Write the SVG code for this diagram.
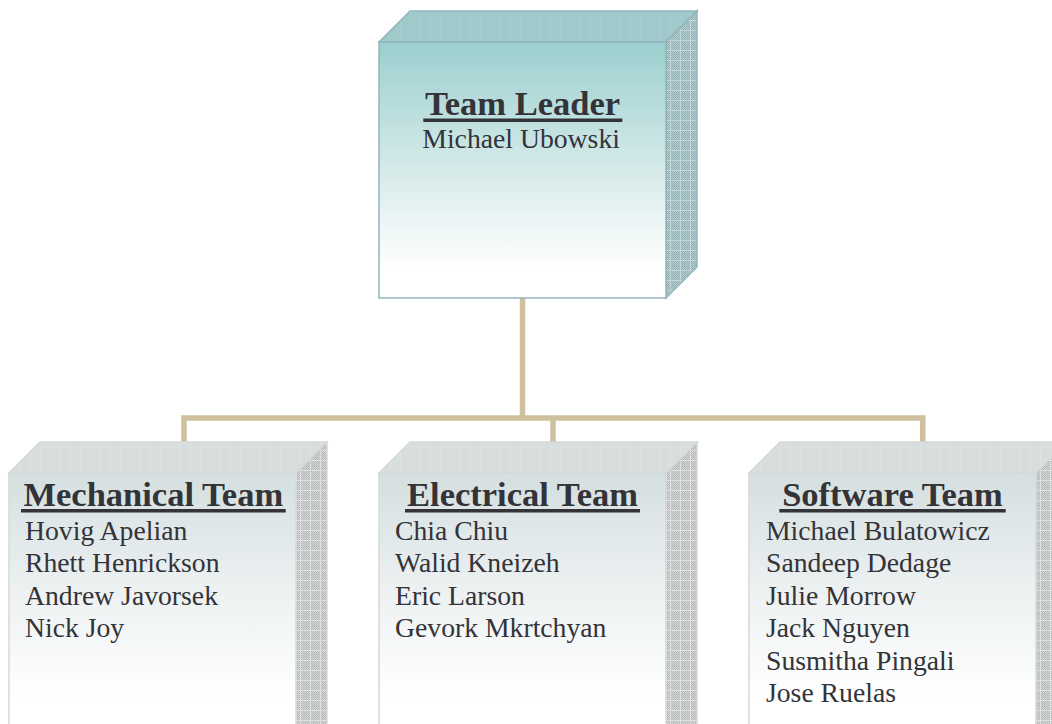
<svg xmlns="http://www.w3.org/2000/svg" width="1052" height="724" viewBox="0 0 1052 724">
  <defs>
    <style>
      .head { font-family: "Liberation Serif", "Times New Roman", serif; font-weight: bold; font-size: 34.5px; fill: #333338; text-anchor: middle; }
      .name { font-family: "Liberation Serif", "Times New Roman", serif; font-size: 27.7px; fill: #333338; }
      .uline { fill: #333338; }
      .link { stroke: #cfc19e; stroke-width: 5.5; fill: none; stroke-linecap: butt; }
      .leadEdge { stroke: #93b5bc; stroke-width: 1.5; stroke-linejoin: miter; }
      .teamEdge { stroke: #d6d9d9; stroke-width: 1.5; stroke-linejoin: miter; }
    </style>
    <!-- face shading -->
    <linearGradient id="leadFront" x1="0" y1="0" x2="0" y2="1">
      <stop offset="0" stop-color="#9bcfcf"/>
      <stop offset="0.5" stop-color="#d6eaea"/>
      <stop offset="0.88" stop-color="#ffffff"/>
      <stop offset="1" stop-color="#ffffff"/>
    </linearGradient>
    <linearGradient id="teamFront" gradientUnits="userSpaceOnUse" x1="0" y1="473" x2="0" y2="724">
      <stop offset="0" stop-color="#d5dfe0"/>
      <stop offset="0.5" stop-color="#eef2f3"/>
      <stop offset="0.9" stop-color="#ffffff"/>
    </linearGradient>
    <!-- fine dither for the side faces -->
    <pattern id="ditherTeal" width="2" height="2" patternUnits="userSpaceOnUse">
      <rect width="2" height="2" fill="#b2cbcd"/>
      <rect width="1" height="1" fill="#93b2b5"/>
      <rect x="1" y="1" width="1" height="1" fill="#93b2b5"/>
    </pattern>
    <pattern id="ditherGray" width="2" height="2" patternUnits="userSpaceOnUse">
      <rect width="2" height="2" fill="#d2d4d4"/>
      <rect width="1" height="1" fill="#b7baba"/>
      <rect x="1" y="1" width="1" height="1" fill="#b7baba"/>
    </pattern>
    <!-- mesh lines over the side faces -->
    <pattern id="meshTeal" width="10" height="10" patternUnits="userSpaceOnUse">
      <rect width="10" height="1" fill="#c3d7d8"/>
      <rect width="1" height="10" fill="#c3d7d8"/>
    </pattern>
    <pattern id="meshGray" width="10" height="10" patternUnits="userSpaceOnUse">
      <rect width="10" height="1" fill="#dfe1e1"/>
      <rect width="1" height="10" fill="#dfe1e1"/>
    </pattern>
    <!-- faint grid on the top faces -->
    <pattern id="roofTeal" width="10" height="10" patternUnits="userSpaceOnUse">
      <rect width="10" height="10" fill="#a0c9cb"/>
      <rect width="1" height="10" fill="#a8cdcf"/>
    </pattern>
    <pattern id="roofGray" width="10" height="10" patternUnits="userSpaceOnUse">
      <rect width="10" height="10" fill="#d8dede"/>
      <rect width="1" height="10" fill="#dde2e2"/>
    </pattern>
  </defs>

  <rect width="1052" height="724" fill="#ffffff"/>

  <!-- tree connectors -->
  <g id="connectors">
    <path class="link" d="M522.5 298 V418"/>
    <path class="link" d="M181.2 418 H925.5"/>
    <path class="link" d="M184 418 V444"/>
    <path class="link" d="M553 418 V444"/>
    <path class="link" d="M922.7 418 V444"/>
  </g>

  <!-- leader block -->
  <g id="team-leader">
    <polygon points="379,42 410,11 697,11 666,42" fill="url(#roofTeal)" class="leadEdge"/>
    <polygon points="666,42 697,11 697,267 666,298" fill="url(#ditherTeal)"/>
    <polygon points="666,42 697,11 697,267 666,298" fill="url(#meshTeal)" class="leadEdge"/>
    <rect x="379" y="42" width="287" height="256" fill="url(#leadFront)" class="leadEdge"/>
    <text class="head" x="522.5" y="115">Team Leader</text>
    <rect class="uline" x="423.3" y="118.5" width="199" height="3.5"/>
    <text class="name" x="422.3" y="148">Michael Ubowski</text>
  </g>

  <!-- mechanical block -->
  <g id="mechanical-team">
    <polygon points="9,473 40,442 327,442 296,473" fill="url(#roofGray)" class="teamEdge"/>
    <polygon points="296,473 327,442 327,740 296,740" fill="url(#ditherGray)"/>
    <polygon points="296,473 327,442 327,740 296,740" fill="url(#meshGray)" class="teamEdge"/>
    <rect x="9" y="473" width="287" height="267" fill="url(#teamFront)" class="teamEdge"/>
    <text class="head" x="153.3" y="506">Mechanical Team</text>
    <rect class="uline" x="21" y="509" width="264.7" height="3.5"/>
    <text class="name" x="25" y="539.5">Hovig Apelian</text>
    <text class="name" x="25" y="572">Rhett Henrickson</text>
    <text class="name" x="25" y="604.5">Andrew Javorsek</text>
    <text class="name" x="25" y="637">Nick Joy</text>
  </g>

  <!-- electrical block -->
  <g id="electrical-team">
    <polygon points="379,473 410,442 697,442 666,473" fill="url(#roofGray)" class="teamEdge"/>
    <polygon points="666,473 697,442 697,740 666,740" fill="url(#ditherGray)"/>
    <polygon points="666,473 697,442 697,740 666,740" fill="url(#meshGray)" class="teamEdge"/>
    <rect x="379" y="473" width="287" height="267" fill="url(#teamFront)" class="teamEdge"/>
    <text class="head" x="522.5" y="506">Electrical Team</text>
    <rect class="uline" x="405" y="509" width="235" height="3.5"/>
    <text class="name" x="395" y="539.5">Chia Chiu</text>
    <text class="name" x="395" y="572">Walid Kneizeh</text>
    <text class="name" x="395" y="604.5">Eric Larson</text>
    <text class="name" x="395" y="637">Gevork Mkrtchyan</text>
  </g>

  <!-- software block -->
  <g id="software-team">
    <polygon points="749,473 780,442 1067,442 1036,473" fill="url(#roofGray)" class="teamEdge"/>
    <polygon points="1036,473 1067,442 1067,740 1036,740" fill="url(#ditherGray)"/>
    <polygon points="1036,473 1067,442 1067,740 1036,740" fill="url(#meshGray)" class="teamEdge"/>
    <rect x="749" y="473" width="287" height="267" fill="url(#teamFront)" class="teamEdge"/>
    <text class="head" x="892.5" y="506">Software Team</text>
    <rect class="uline" x="779.3" y="509" width="226.4" height="3.5"/>
    <text class="name" x="766" y="539.5">Michael Bulatowicz</text>
    <text class="name" x="766" y="572">Sandeep Dedage</text>
    <text class="name" x="766" y="604.5">Julie Morrow</text>
    <text class="name" x="766" y="637">Jack Nguyen</text>
    <text class="name" x="766" y="669.5">Susmitha Pingali</text>
    <text class="name" x="766" y="702">Jose Ruelas</text>
  </g>
</svg>
